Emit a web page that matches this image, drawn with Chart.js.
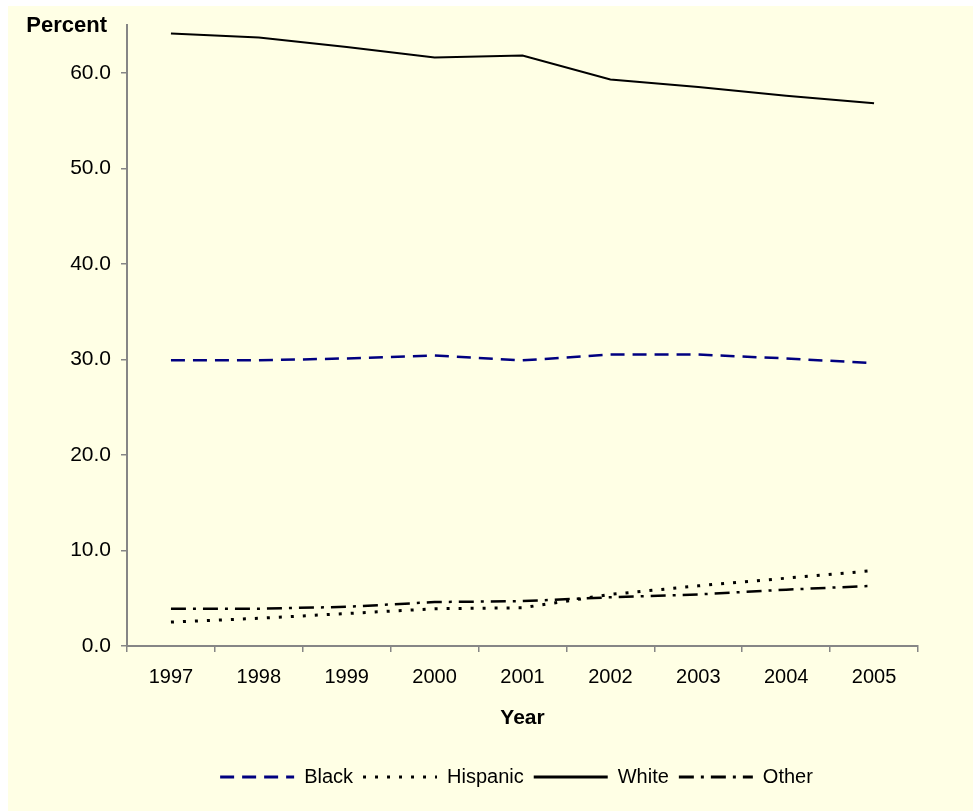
<!DOCTYPE html>
<html>
<head>
<meta charset="utf-8">
<script src="https://cdn.jsdelivr.net/npm/chart.js@4/dist/chart.umd.min.js"></script>
<style>
  html, body { margin: 0; padding: 0; background: #ffffff; }
  #wrap { position: absolute; left: 8px; top: 6px; width: 965px; height: 805px; background: #FFFFE5; }
  canvas { display: block; }
</style>
</head>
<body>
<div id="wrap"><canvas id="c" width="965" height="805"></canvas></div>
<script>
// Share of enrollment by race/ethnicity, 1997–2005 (percent)
const years    = ['1997', '1998', '1999', '2000', '2001', '2002', '2003', '2004', '2005'];
const black    = [29.9, 29.9, 30.1, 30.4, 29.9, 30.5, 30.5, 30.1, 29.6];
const hispanic = [2.5, 2.9, 3.4, 3.9, 4.0, 5.4, 6.3, 7.1, 7.9];
const white    = [64.1, 63.7, 62.7, 61.6, 61.8, 59.3, 58.5, 57.6, 56.8];
const other    = [3.9, 3.9, 4.1, 4.6, 4.7, 5.1, 5.4, 5.9, 6.3];

const FONT = "'Liberation Sans', Arial, sans-serif";
const AXIS_GREY = '#868686';

// "Percent" caption sitting above the value axis
const percentCaption = {
  id: 'percentCaption',
  afterDraw(chart) {
    const { ctx, chartArea } = chart;
    ctx.save();
    ctx.font = `bold 22px ${FONT}`;
    ctx.fillStyle = '#000';
    ctx.textAlign = 'right';
    ctx.textBaseline = 'alphabetic';
    ctx.fillText('Percent', chartArea.left - 20, chartArea.top + 7);
    ctx.restore();
  }
};

// Centre the legend row under the plot area rather than the whole canvas
const legendUnderPlot = {
  id: 'legendUnderPlot',
  afterLayout(chart) {
    const lg = chart.legend;
    if (!lg) return;
    const plotMid = (chart.chartArea.left + chart.chartArea.right) / 2;
    const boxMid = (lg.left + lg.right) / 2;
    const d = plotMid - boxMid - 6;
    lg.left += d;
    lg.right += d;
  }
};

function series(label, data, color, dash, width) {
  return {
    label, data,
    borderColor: color,
    backgroundColor: color,
    borderWidth: width,
    borderDash: dash,
    pointRadius: 0,
    pointHoverRadius: 0,
    pointStyle: 'line',
    tension: 0,
    fill: false
  };
}

new Chart(document.getElementById('c'), {
  type: 'line',
  data: {
    labels: years,
    datasets: [
      series('Black', black, '#000080', [14, 8], 2.5),
      series('Hispanic', hispanic, '#000000', [3, 9], 3),
      series('White', white, '#000000', [], 2),
      series('Other', other, '#000000', [15, 7, 3, 7], 2.5)
    ]
  },
  options: {
    responsive: false,
    animation: false,
    events: [],
    layout: { padding: { left: 0, right: 55, top: 19, bottom: 14 } },
    plugins: {
      tooltip: { enabled: false },
      title: { display: false },
      legend: {
        position: 'bottom',
        labels: {
          usePointStyle: true,
          pointStyleWidth: 74,
          boxHeight: 20,
          padding: 10,
          color: '#000',
          font: { family: FONT, size: 20 },
          generateLabels(chart) {
            return chart.data.datasets.map((ds, i) => ({
              text: ds.label,
              datasetIndex: i,
              fillStyle: ds.borderColor,
              strokeStyle: ds.borderColor,
              fontColor: '#000',
              lineWidth: 3,
              lineDash: ds.borderDash,
              lineDashOffset: 0,
              lineCap: 'butt',
              pointStyle: 'line',
              hidden: false
            }));
          }
        }
      }
    },
    scales: {
      x: {
        type: 'category',
        offset: true,
        grid: {
          offset: true,
          drawOnChartArea: false,
          drawTicks: true,
          tickLength: 6,
          color: AXIS_GREY,
          lineWidth: 1.5
        },
        border: { display: true, color: AXIS_GREY, width: 2 },
        ticks: { color: '#000', padding: 13, font: { family: FONT, size: 20 } },
        title: {
          display: true,
          text: 'Year',
          color: '#000',
          font: { family: FONT, size: 21, weight: 'bold' },
          padding: { top: 6, bottom: 26 }
        },
        afterFit(scale) { scale.height = 111; }
      },
      y: {
        min: 0,
        max: 65,
        grid: {
          drawOnChartArea: false,
          drawTicks: true,
          tickLength: 6,
          color: AXIS_GREY,
          lineWidth: 1.5
        },
        border: { display: true, color: AXIS_GREY, width: 2 },
        ticks: {
          stepSize: 10,
          includeBounds: false,
          color: '#000',
          padding: 10,
          font: { family: FONT, size: 21 },
          callback: v => Number(v).toFixed(1)
        },
        afterFit(scale) {
          scale.width = 119;
          scale.paddingTop = 0;
          scale.paddingBottom = 0;
        }
      }
    }
  },
  plugins: [percentCaption, legendUnderPlot]
});
</script>
</body>
</html>
